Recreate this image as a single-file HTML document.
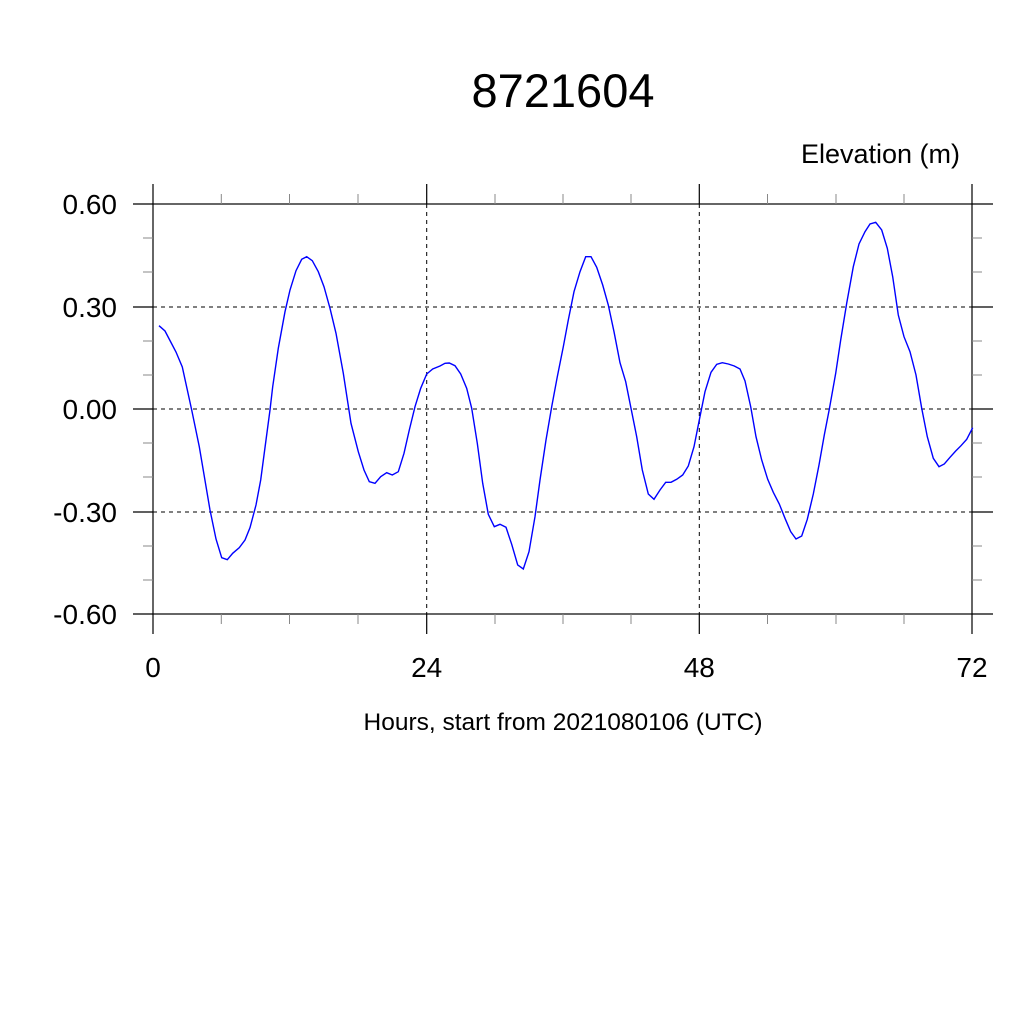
<!DOCTYPE html>
<html><head><style>body{margin:0;background:#fff}</style></head><body>
<svg width="1024" height="1024" xmlns="http://www.w3.org/2000/svg" font-family="Liberation Sans, sans-serif">
<rect width="1024" height="1024" fill="#fff"/>
<text x="563" y="107" font-size="47" text-anchor="middle">8721604</text>
<text x="960" y="163" font-size="27" text-anchor="end">Elevation (m)</text>
<g stroke="#000" stroke-width="1" stroke-dasharray="4,4">
<line x1="153" y1="307" x2="972" y2="307"/>
<line x1="153" y1="409" x2="972" y2="409"/>
<line x1="153" y1="512" x2="972" y2="512"/>
<line x1="426.7" y1="204" x2="426.7" y2="614"/>
<line x1="699.3" y1="204" x2="699.3" y2="614"/>
</g>
<g stroke="#000" stroke-width="1.2" fill="none">
<rect x="153" y="204" width="819" height="410"/>
<path d="M133 204H153M133 307H153M133 409H153M133 512H153M133 614H153
M972 204H993M972 307H993M972 409H993M972 512H993M972 614H993
M153 184V204M426.7 184V204M699.3 184V204M972 184V204
M153 614V634M426.7 614V634M699.3 614V634M972 614V634"/>
</g>
<g stroke="#888" stroke-width="1">
<path d="M143 238H153M143 272H153M143 341H153M143 375H153M143 443H153M143 477H153M143 546H153M143 580H153
M972 238H982M972 272H982M972 341H982M972 375H982M972 443H982M972 477H982M972 546H982M972 580H982
M221.3 194V204M289.5 194V204M358 194V204M495 194V204M563 194V204M631 194V204M767.5 194V204M836 194V204M904 194V204
M221.3 614V624M289.5 614V624M358 614V624M495 614V624M563 614V624M631 614V624M767.5 614V624M836 614V624M904 614V624"/>
</g>
<g font-size="28" text-anchor="end">
<text x="117" y="214">0.60</text>
<text x="117" y="317">0.30</text>
<text x="117" y="419">0.00</text>
<text x="117" y="522">-0.30</text>
<text x="117" y="624">-0.60</text>
</g>
<g font-size="28" text-anchor="middle">
<text x="153" y="677">0</text>
<text x="426.7" y="677">24</text>
<text x="699.3" y="677">48</text>
<text x="972" y="677">72</text>
</g>
<text x="563" y="730" font-size="24.5" text-anchor="middle">Hours, start from 2021080106 (UTC)</text>
<polyline fill="none" stroke="#0000ff" stroke-width="1.4" points="159,325.7 165,331 176,352 182.3,367 191.7,410 199.3,446.7 210,510 216,539 221.7,557.7 227.3,559.7 232.7,553.3 239.3,547.7 245,540 250,527.7 256,505 260.7,480 266,440 270,410 272.7,386.7 278.3,348.3 285,311.7 290,290 296,270.7 301.7,259.3 306.7,256.7 312.3,260.7 318.3,271.7 324,286.7 330,308.3 336,333.3 343.3,373.3 351,423.3 358.3,451.7 364,470 369.3,481.7 375,483.3 380.7,476.7 386.7,472.7 392.3,475 398.3,471.7 404,453.3 409.3,430 415,406.7 420.7,388.3 426.7,374 432.7,369 440,366 445,363.3 449.3,363 455,365.7 460.7,374 466.7,388.3 471.7,408.3 477.3,443.3 482.7,483.3 488.3,514.3 494.3,526.7 500,524.3 506,527.3 511.7,544.3 517.7,565 523.3,569 529,551.7 535,516.7 540,480 546,440 551.7,406.7 557.3,376.7 563.3,346.7 568.3,320 574,291.7 580,271.7 585.7,256.7 591,256.7 596.7,267.3 602.7,285 608.3,305 614,331.7 620,362.7 625.7,381.7 631,408.3 636.7,436.7 642.3,470 648.3,494 654,499.3 660,490 665.7,482.3 671,482.3 676.7,479.3 682.7,475 688.3,466 694,446.7 699.3,420 705,391.7 711,372.3 716.7,364.3 722.3,362.7 728.3,364 734.3,366 740,369 745,381 750.7,406.7 756,436.7 761.7,460 767.7,479.3 773.3,492.3 779.3,504 785,518.3 790.7,531.7 796,539 801.7,536 807.3,519.3 813.3,494 819,465 824.3,435 829.3,409.3 835.7,373.3 840.7,340 846.7,303.3 853.3,266.7 859,244 865,231.7 870,224 875.7,222.3 881.7,230 887.3,248.3 892.7,276.7 898.3,315 904,336.7 910,351.7 916,375 921.7,408.3 927.3,436.7 933.3,458.3 939,466.7 944.3,464 950,457.3 955.7,451 961,445.7 966.7,439.3 972.7,427.7"/>
</svg>
</body></html>
